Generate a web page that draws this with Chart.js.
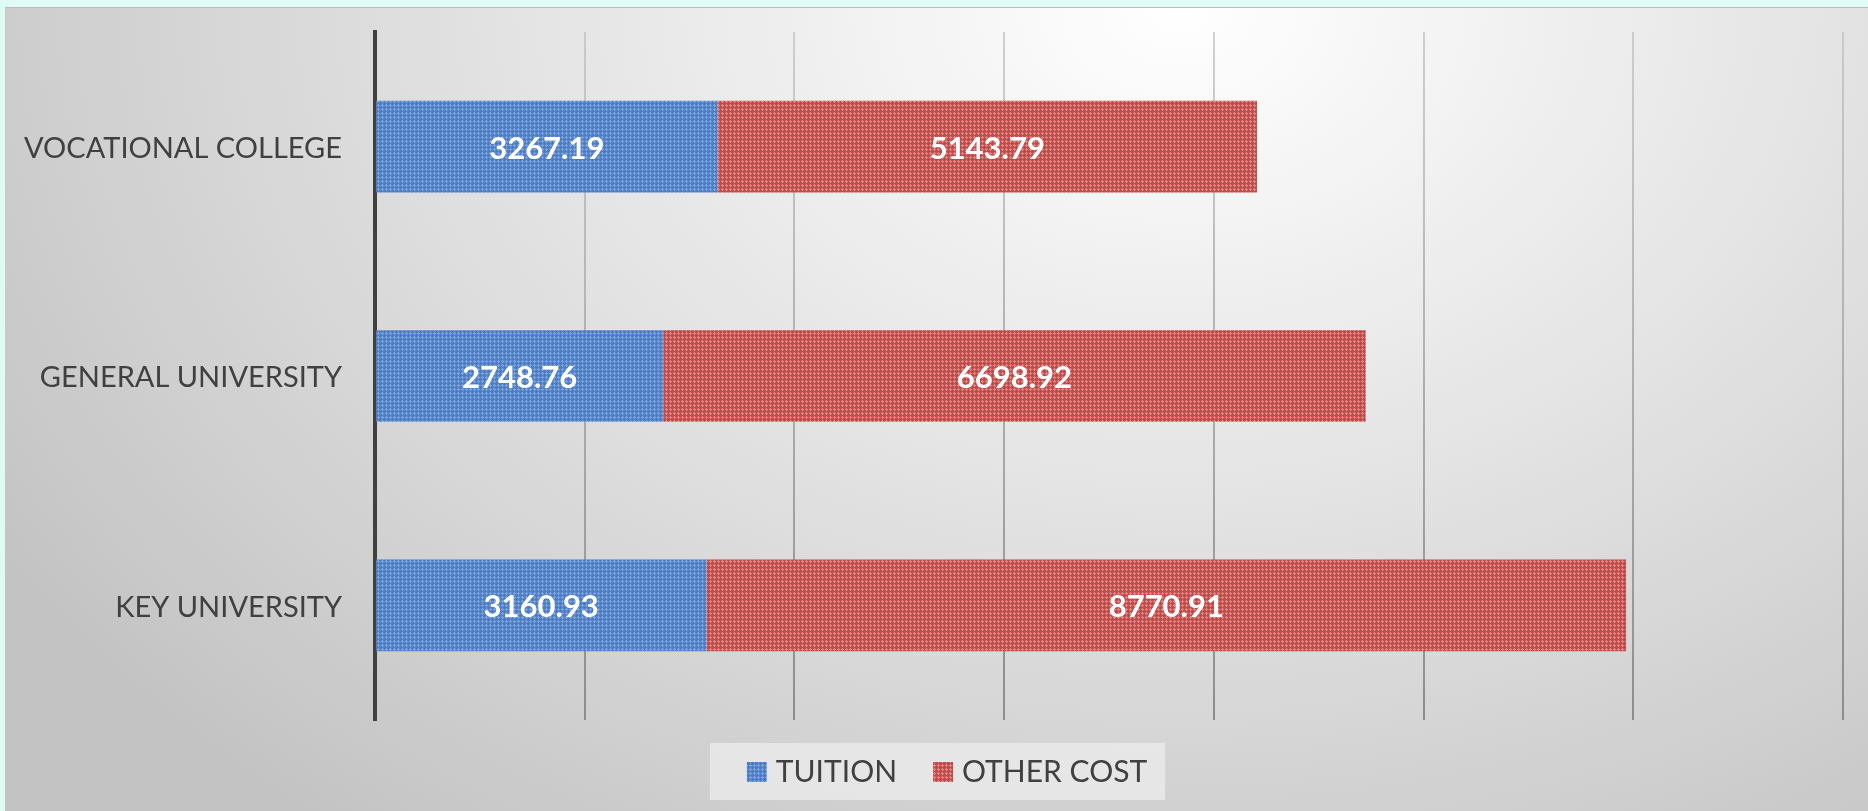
<!DOCTYPE html>
<html>
<head>
<meta charset="utf-8">
<script src="https://cdn.jsdelivr.net/npm/chart.js@4/dist/chart.umd.min.js"></script>
<style>
  html, body { margin: 0; padding: 0; }
  body { width: 1868px; height: 811px; background: #e0fbf3; overflow: hidden; position: relative; }
  #panel {
    position: absolute; left: 5px; top: 7px; width: 1863px; height: 803px;
    border-top: 1px solid #b9bdbb;
    background: radial-gradient(ellipse 75% 130% at 63% 0%, #ffffff 0%, #e3e3e3 48%, #c3c3c3 100%);
  }
  canvas { display: block; }
</style>
</head>
<body>
<div id="panel"><canvas id="chart" width="1863" height="803"></canvas></div>
<script>
// school types, top to bottom
const categories = ["VOCATIONAL COLLEGE", "GENERAL UNIVERSITY", "KEY UNIVERSITY"];
const tuition = [3267.19, 2748.76, 3160.93];
const otherCost = [5143.79, 6698.92, 8770.91];
const seriesNames = ["TUITION", "OTHER COST"];
const xMax = 14000;
const xStep = 2000;

const FONT = "Lato";
const TEXT = "#404040";

// small dotted texture like the office pattern fill
function makePattern(base, light, dark) {
  const c = document.createElement("canvas");
  c.width = 4; c.height = 4;
  const g = c.getContext("2d");
  g.fillStyle = base;
  g.fillRect(0, 0, 4, 4);
  g.fillStyle = light;
  g.fillRect(1, 0, 1, 3);
  g.fillRect(0, 1, 3, 1);
  g.fillStyle = dark;
  g.fillRect(3, 3, 1, 1);
  return g.createPattern(c, "repeat");
}
const bluePat = makePattern("#5080c6", "#7ea3da", "#4874b9");
const redPat = makePattern("#c24f4c", "#dc8785", "#b6403d");

// white bold value in the middle of each segment
const valueLabels = {
  id: "valueLabels",
  afterDatasetsDraw(chart) {
    const ctx = chart.ctx;
    ctx.save();
    ctx.font = "bold 31px " + FONT;
    ctx.fillStyle = "#ffffff";
    ctx.textAlign = "center";
    ctx.textBaseline = "middle";
    chart.data.datasets.forEach((ds, i) => {
      chart.getDatasetMeta(i).data.forEach((bar, j) => {
        const p = bar.getCenterPoint();
        ctx.fillText(ds.data[j].toFixed(2), p.x, p.y + 2);
      });
    });
    ctx.restore();
  },
};

// nudge the legend a little right and up
const legendShift = {
  id: "legendShift",
  afterLayout(chart) {
    const lg = chart.legend;
    if (!lg) return;
    lg.left += 26; lg.right += 26;
    lg.top -= 5; lg.bottom -= 5;
  },
};

// light box behind the legend
const legendBox = {
  id: "legendBox",
  beforeDraw(chart) {
    const lg = chart.legend;
    if (!lg || !lg.legendHitBoxes.length) return;
    const boxes = lg.legendHitBoxes;
    const l = Math.min(...boxes.map(b => b.left)) - 43;
    const r = Math.max(...boxes.map(b => b.left + b.width)) + 18;
    const ctx = chart.ctx;
    ctx.save();
    ctx.fillStyle = "rgba(236,236,236,0.75)";
    ctx.fillRect(l, 735, r - l, 57);
    ctx.restore();
  },
};

const ctx = document.getElementById("chart").getContext("2d");
new Chart(ctx, {
  type: "bar",
  data: {
    labels: categories,
    datasets: [
      { label: seriesNames[0], data: tuition, backgroundColor: bluePat, borderWidth: 0 },
      { label: seriesNames[1], data: otherCost, backgroundColor: redPat, borderWidth: 0 },
    ],
  },
  options: {
    indexAxis: "y",
    responsive: false,
    animation: false,
    categoryPercentage: 1,
    barPercentage: 0.4,
    layout: { padding: { top: 24, right: 25, left: 0, bottom: 9 } },
    scales: {
      x: {
        stacked: true,
        min: 0,
        max: xMax,
        ticks: { display: false, stepSize: xStep },
        border: { display: false },
        grid: {
          drawTicks: false,
          lineWidth: 2,
          color: (c) => {
            const area = c.chart.chartArea;
            if (!area) return "#a0a0a0";
            const gr = c.chart.ctx.createLinearGradient(0, area.top, 0, area.bottom);
            gr.addColorStop(0, "rgba(190,190,190,0.7)");
            gr.addColorStop(1, "rgba(140,140,140,1)");
            return gr;
          },
        },
      },
      y: {
        stacked: true,
        grid: { display: false, drawTicks: false },
        border: { display: true, color: "#404040", width: 4 },
        ticks: { padding: 33, labelOffset: 2, color: TEXT, font: { family: FONT, size: 29 } },
        afterFit: (s) => {
          s.width = 370;
          s.paddingTop = 0;
          s.paddingBottom = 0;
        },
      },
    },
    plugins: {
      legend: {
        position: "bottom",
        labels: {
          color: TEXT,
          usePointStyle: true,
          pointStyle: "rect",
          boxWidth: 8,
          boxHeight: 20,
          padding: 42,
          font: { family: FONT, size: 30 },
        },
      },
      tooltip: { enabled: false },
    },
  },
  plugins: [valueLabels, legendShift, legendBox],
});
</script>
</body>
</html>
